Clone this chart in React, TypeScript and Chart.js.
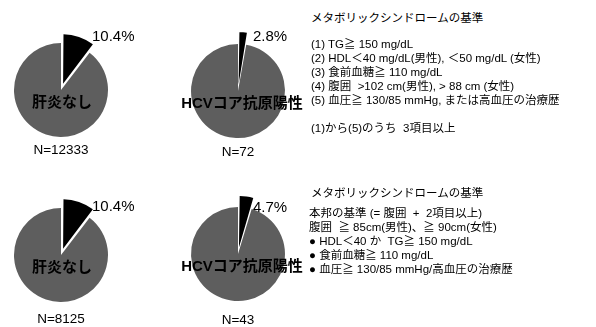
import React, { useEffect, useRef } from "react";
import { Chart, registerables } from "chart.js";

Chart.register(...registerables);

// Subgroups, share with metabolic syndrome (%) and group sizes
const groupLabels = ["肝炎なし", "HCVコア抗原陽性", "肝炎なし", "HCVコア抗原陽性"];
const metsPercent = [10.4, 2.8, 10.4, 4.7];
const groupSizes = [12333, 72, 8125, 43];

// Criteria text
const criteriaTitle = "メタボリックシンドロームの基準";
const atpCriteria = [
  "(1) TG≧ 150 mg/dL",
  "(2) HDL＜40 mg/dL(男性), ＜50 mg/dL (女性)",
  "(3) 食前血糖≧ 110 mg/dL",
  "(4) 腹囲  >102 cm(男性), > 88 cm (女性)",
  "(5) 血圧≧ 130/85 mmHg, または高血圧の治療歴",
];
const atpRule = "(1)から(5)のうち  3項目以上";
const japanCriteria = [
  "本邦の基準 (= 腹囲  +  2項目以上)",
  "腹囲  ≧ 85cm(男性)、≧ 90cm(女性)",
  "● HDL＜40 か  TG≧ 150 mg/dL",
  "● 食前血糖≧ 110 mg/dL",
  "● 血圧≧ 130/85 mmHg/高血圧の治療歴",
];

const PIE_GRAY = "#5e5e5e";
const CANVAS = 124;
const RADIUS = 47;
// Chart.js moves an arc by offset / 4 pixels
const EXPLODE = 26;

// Pie centres and label anchors on the page
const layout = [
  { cx: 61, cy: 90, pctX: 92, pctY: 36, nY: 150, labelDx: 1 },
  { cx: 238, cy: 91, pctX: 253, pctY: 36, nY: 152, labelDx: 4 },
  { cx: 61, cy: 255, pctX: 92, pctY: 206, nY: 319, labelDx: 1 },
  { cx: 238, cy: 254, pctX: 253, pctY: 207, nY: 320, labelDx: 4 },
];

const latinJp = '"Liberation Sans", Arial, "Noto Sans CJK JP", sans-serif';

function Pie({ index }: { index: number }) {
  const ref = useRef<HTMLCanvasElement | null>(null);
  const p = metsPercent[index];
  const pos = layout[index];

  useEffect(() => {
    if (!ref.current) return;
    const chart = new Chart(ref.current, {
      type: "pie",
      data: {
        labels: ["MetS", "non-MetS"],
        datasets: [
          {
            data: [p, 100 - p],
            backgroundColor: ["#000000", PIE_GRAY],
            borderWidth: 0,
            offset: (c: any) => (c.dataIndex === 0 ? EXPLODE : 0),
          } as any,
        ],
      },
      options: {
        animation: false,
        responsive: false,
        events: [],
        radius: RADIUS,
        layout: { padding: 0 },
        plugins: { legend: { display: false }, tooltip: { enabled: false } },
      } as any,
    });
    return () => chart.destroy();
  }, [p]);

  return (
    <>
      <canvas
        ref={ref}
        width={CANVAS}
        height={CANVAS}
        style={{
          position: "absolute",
          left: pos.cx - CANVAS / 2,
          top: pos.cy - CANVAS / 2,
          width: CANVAS,
          height: CANVAS,
        }}
      />
      <div
        style={{
          position: "absolute",
          left: pos.pctX,
          top: pos.pctY - 9,
          font: `15px ${latinJp}`,
          lineHeight: "18px",
          whiteSpace: "nowrap",
        }}
      >
        {p.toFixed(1)}%
      </div>
      <div
        style={{
          position: "absolute",
          left: pos.cx + pos.labelDx - 80,
          width: 160,
          top: pos.cy + 12 - 10,
          textAlign: "center",
          font: `bold 15px ${latinJp}`,
          lineHeight: "20px",
          whiteSpace: "nowrap",
          color: "#000",
        }}
      >
        {groupLabels[index]}
      </div>
      <div
        style={{
          position: "absolute",
          left: pos.cx - 60,
          width: 120,
          top: pos.nY - 8,
          textAlign: "center",
          font: `13.5px ${latinJp}`,
          lineHeight: "16px",
          whiteSpace: "nowrap",
        }}
      >
        N={groupSizes[index]}
      </div>
    </>
  );
}

function TextLine({ x, y, text }: { x: number; y: number; text: string }) {
  return (
    <div
      style={{
        position: "absolute",
        left: x,
        top: y - 7,
        font: `11.5px ${latinJp}`,
        lineHeight: "14px",
        whiteSpace: "pre",
        color: "#000",
      }}
    >
      {text}
    </div>
  );
}

export default function App() {
  return (
    <div
      style={{
        position: "fixed",
        left: 0,
        top: 0,
        width: 596,
        height: 327,
        background: "#fff",
        overflow: "hidden",
      }}
    >
      {layout.map((_, i) => (
        <Pie key={i} index={i} />
      ))}

      <TextLine x={311} y={18} text={criteriaTitle} />
      {atpCriteria.map((t, i) => (
        <TextLine key={"a" + i} x={311} y={44 + i * 14} text={t} />
      ))}
      <TextLine x={311} y={128} text={atpRule} />

      <TextLine x={311} y={193} text={criteriaTitle} />
      {japanCriteria.map((t, i) => (
        <TextLine key={"j" + i} x={309} y={213 + i * 14} text={t} />
      ))}
    </div>
  );
}
